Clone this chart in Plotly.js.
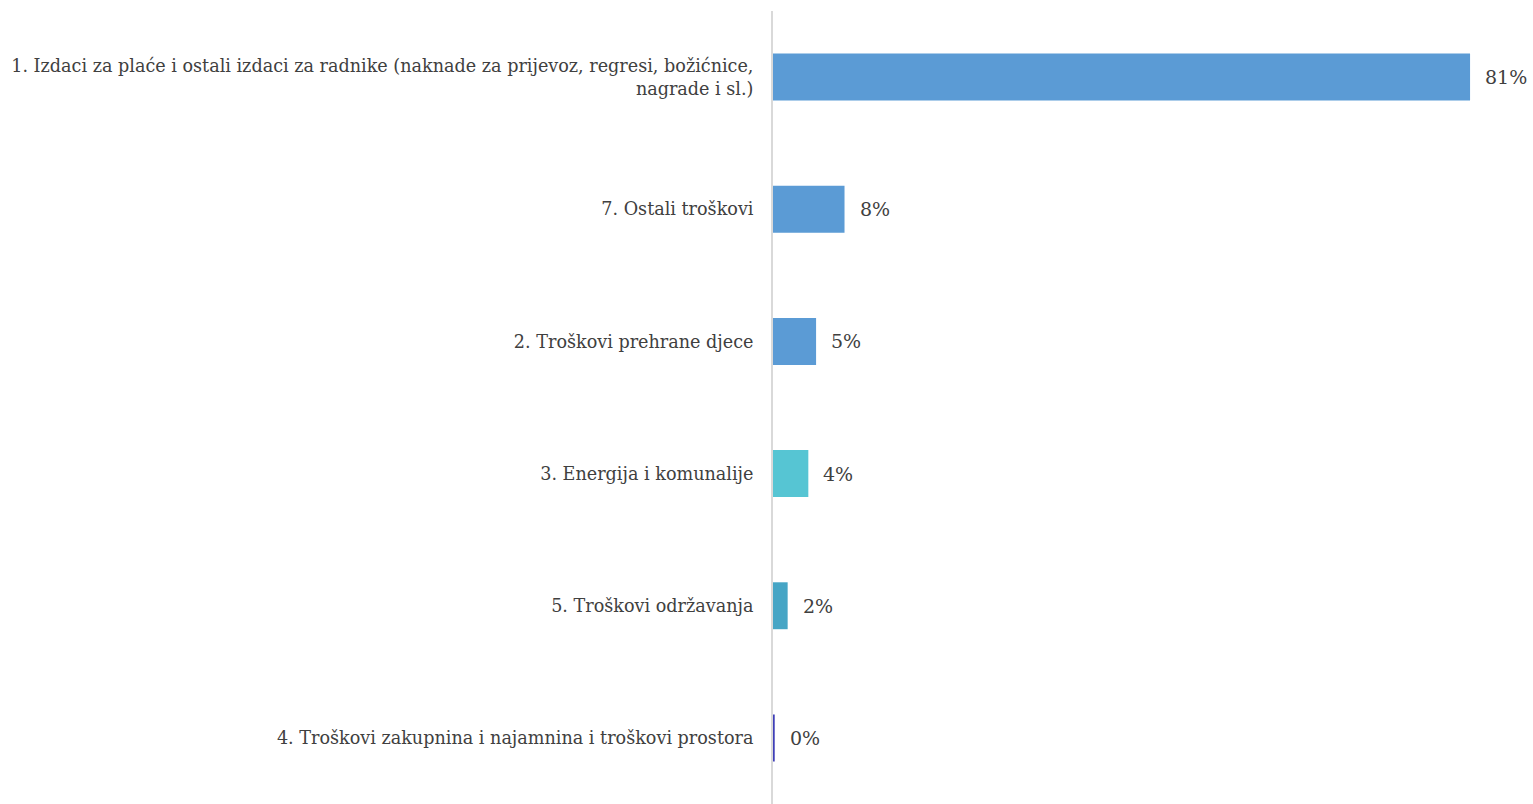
<!DOCTYPE html>
<html>
<head>
<meta charset="utf-8">
<script src="https://cdn.plot.ly/plotly-3.0.1.min.js"></script>
<style>html,body{margin:0;padding:0;background:#fff;}#chart{width:1533px;height:804px;}</style>
</head>
<body>
<div id="chart"></div>
<script>
const categories = [
  "1. Izdaci za plaće i ostali izdaci za radnike (naknade za prijevoz, regresi, božićnice,<br>nagrade i sl.)",
  "7. Ostali troškovi",
  "2. Troškovi prehrane djece",
  "3. Energija i komunalije",
  "5. Troškovi održavanja",
  "4. Troškovi zakupnina i najamnina i troškovi prostora"
];
const values = [0.809, 0.083, 0.050, 0.041, 0.017, 0.002];
const barColors = ["#5B9BD5", "#5B9BD5", "#5B9BD5", "#56C5D3", "#46A5C5", "#3F3FB8"];

const font = "DejaVu Serif, serif";
const annotations = values.map((v, i) => ({
  x: v, y: categories[i], xref: "x", yref: "y",
  text: Math.round(v * 100) + "%",
  showarrow: false, xanchor: "left", yanchor: "middle", xshift: 13,
  font: {family: font, size: 19, color: "#404040"}
}));
Plotly.newPlot("chart", [{
  type: "bar",
  orientation: "h",
  y: categories,
  x: values,
  marker: {color: barColors},
  width: 0.355,
  hoverinfo: "none"
}], {
  width: 1533, height: 804,
  margin: {l: 773, r: 19, t: 11, b: 0},
  paper_bgcolor: "#fff", plot_bgcolor: "#fff",
  showlegend: false,
  font: {family: font, size: 18, color: "#404040"},
  annotations: annotations,
  xaxis: {range: [0, 0.86], showgrid: false, zeroline: false, showticklabels: false, showline: false},
  yaxis: {autorange: "reversed", showgrid: false, zeroline: false, showline: true, linecolor: "#d9d9d9", linewidth: 2,
          ticks: "", ticklabelstandoff: 14, tickfont: {family: font, size: 17.6, color: "#404040"}}
}, {staticPlot: true});
</script>
</body>
</html>
